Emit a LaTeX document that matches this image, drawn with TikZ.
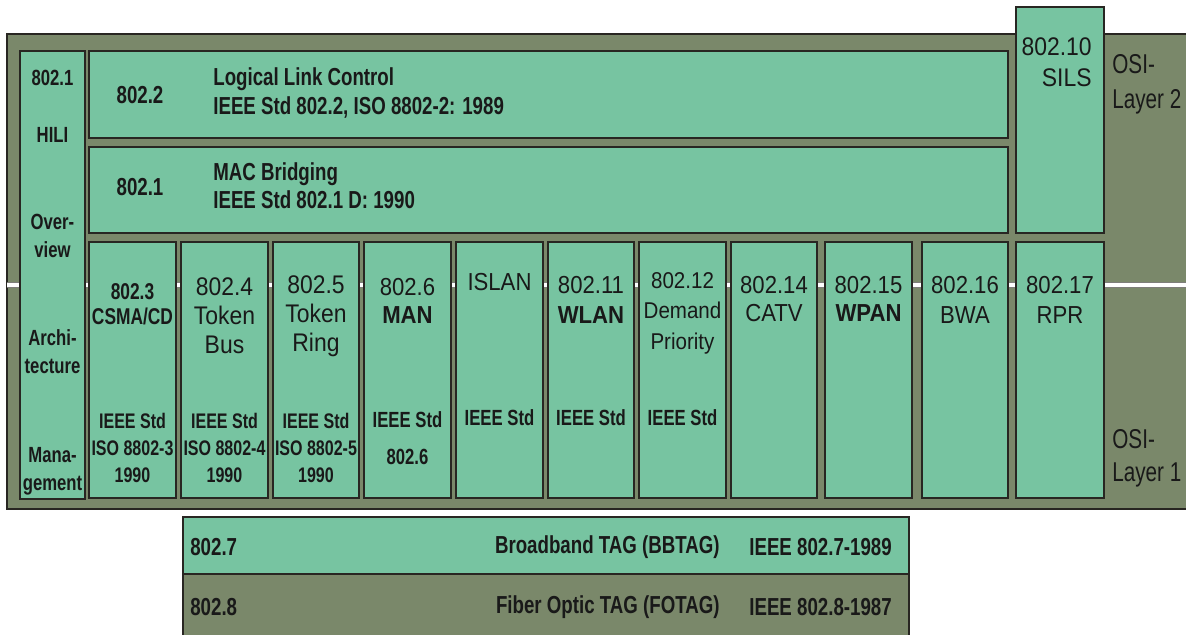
\documentclass[tikz,border=0pt]{standalone}
\usepackage{fontspec}
\setmainfont{Liberation Sans}[FakeStretch=0.76]
\newfontfamily\widefont{Liberation Sans}[FakeStretch=0.9]
\definecolor{stdgreen}{RGB}{119,196,161}
\definecolor{olivebg}{RGB}{122,136,106}
\definecolor{edgegray}{RGB}{40,38,34}

\begin{document}
\begin{tikzpicture}[x=0.02cm, y=-0.02cm,
    frame/.style={draw=edgegray, fill=olivebg, line width=1.4pt},
    stdbox/.style={draw=edgegray, fill=stdgreen, line width=1.2pt},
    lbl/.style={inner sep=0pt, align=center, text=black!90, font=\bfseries\fontsize{12.5}{16.2}\selectfont},
    isolbl/.style={lbl, font=\bfseries\fontsize{12}{15.5}\selectfont},
    widelbl/.style={lbl, font=\widefont\fontsize{14.5}{16.5}\selectfont},
    sidelbl/.style={lbl, font=\bfseries\fontsize{12.5}{16}\selectfont},
    rowlbl/.style={lbl, align=left, anchor=west, font=\bfseries\fontsize{14}{16}\selectfont},
    taglbl/.style={inner sep=0pt, anchor=west, text=black!90, font=\bfseries\fontsize{14}{16}\selectfont},
    osilbl/.style={inner sep=0pt, align=left, anchor=west, text=black!90, font=\fontsize{15.5}{20}\selectfont},
    layersep/.style={draw=edgegray!60, line width=0.5pt, double=white, double distance=2.2pt}]

    \clip (0,0) rectangle (1186,635);

    % olive frame and layer line
    \draw[frame] (7,34) rectangle (1200,509);
    \coordinate (sepL) at (7,285);
    \coordinate (sepR) at (1200,285);
    \draw[layersep] (sepL) -- (sepR);

    % boxes
    \draw[stdbox] (20,51) rectangle (85,499);
    \draw[stdbox] (89,51) rectangle (1008,138);
    \draw[stdbox] (89,147) rectangle (1008,233);
    \draw[stdbox] (1016,7) rectangle (1104,233);
    \foreach \xa/\xb in {89/176,181/268,273/359,364/451,456/543,548/634,639/726,731/817,825/912,922/1008,1016/1104}
        \draw[stdbox] (\xa,242) rectangle (\xb,498);
    \draw[stdbox] (183,517) rectangle (909,574);
    \draw[frame] (183,574) rectangle (909,650);

    % left column
    \node[sidelbl] (hilinum) at (52.5,78) {802.1};
    \node[sidelbl] (hili) at (52.5,135) {HILI};
    \node[sidelbl] (overview) at (52.5,236) {Over-\\view};
    \node[sidelbl] (archi) at (52.5,351.5) {Archi-\\tecture};
    \node[sidelbl] (mgmt) at (52.5,471.5) {Mana-\\gement};

    % llc and bridging
    \node[lbl, font=\bfseries\fontsize{14}{16}\selectfont] (llcnum) at (140,95) {802.2};
    \node[rowlbl] (llc) at (213,93) {Logical Link Control\\IEEE Std 802.2, ISO 8802-2: 1989};
    \node[lbl, font=\bfseries\fontsize{14}{16}\selectfont] (macnum) at (140,187) {802.1};
    \node[rowlbl] (mac) at (213,186) {MAC Bridging\\IEEE Std 802.1 D: 1990};

    % columns, upper labels
    \node[lbl, font=\bfseries\fontsize{13}{14.5}\selectfont] (c3top) at (132.5,304.5) {802.3\\CSMA/CD};
    \node[widelbl] (c4top) at (224.5,316) {802.4\\Token\\Bus};
    \node[widelbl] (c5top) at (316,316) {802.5\\Token\\Ring};
    \node[widelbl, font=\widefont\fontsize{14}{16}\selectfont] (c6top) at (407.5,301) {802.6\\\textbf{MAN}};
    \node[widelbl, font=\widefont\fontsize{14}{16}\selectfont] (islan) at (499.5,282) {ISLAN};
    \node[widelbl, font=\widefont\fontsize{14}{17}\selectfont] (c11top) at (591,300) {802.11\\\textbf{WLAN}};
    \node[lbl, font=\widefont\fontsize{13}{17.3}\selectfont] (c12top) at (682.5,313) {802.12\\Demand\\Priority};
    \node[widelbl, font=\widefont\fontsize{14}{16}\selectfont] (c14top) at (774,299) {802.14\\CATV};
    \node[widelbl, font=\widefont\fontsize{14}{16}\selectfont] (c15top) at (868.5,299) {802.15\\\textbf{WPAN}};
    \node[widelbl, font=\widefont\fontsize{14}{17}\selectfont] (c16top) at (965,300) {802.16\\BWA};
    \node[widelbl, font=\widefont\fontsize{14}{17}\selectfont] (c17top) at (1060,300) {802.17\\RPR};

    % columns, lower labels
    \node[isolbl] (c3bot) at (132.5,448) {IEEE Std\\ISO 8802-3\\1990};
    \node[isolbl] (c4bot) at (224.5,448) {IEEE Std\\ISO 8802-4\\1990};
    \node[isolbl] (c5bot) at (316,448) {IEEE Std\\ISO 8802-5\\1990};
    \node[lbl, font=\bfseries\fontsize{12.5}{21}\selectfont] (c6bot) at (407.5,438.5) {IEEE Std\\802.6};
    \node[lbl] (islanbot) at (499.5,418) {IEEE Std};
    \node[lbl] (c11bot) at (591,418) {IEEE Std};
    \node[lbl] (c12bot) at (682.5,418) {IEEE Std};

    % sils and osi layers
    \node[widelbl, align=right, anchor=east, font=\widefont\fontsize{14.5}{17.6}\selectfont] (sils) at (1092,62.5) {802.10\\SILS};
    \node[osilbl] (ositwo) at (1112,84.5) {OSI-\\Layer 2};
    \node[osilbl, font=\fontsize{15.5}{19}\selectfont] (osione) at (1112,458.5) {OSI-\\Layer 1};

    % tags
    \node[taglbl] (bbnum) at (190,547) {802.7};
    \node[taglbl, anchor=east] (bbtag) at (720,547) {Broadband TAG (BBTAG)};
    \node[taglbl] (bbstd) at (749,547) {IEEE 802.7-1989};
    \node[taglbl] (fonum) at (190,607) {802.8};
    \node[taglbl, anchor=east] (fotag) at (720,607) {Fiber Optic TAG (FOTAG)};
    \node[taglbl] (fostd) at (749,607) {IEEE 802.8-1987};
\end{tikzpicture}
\end{document}
